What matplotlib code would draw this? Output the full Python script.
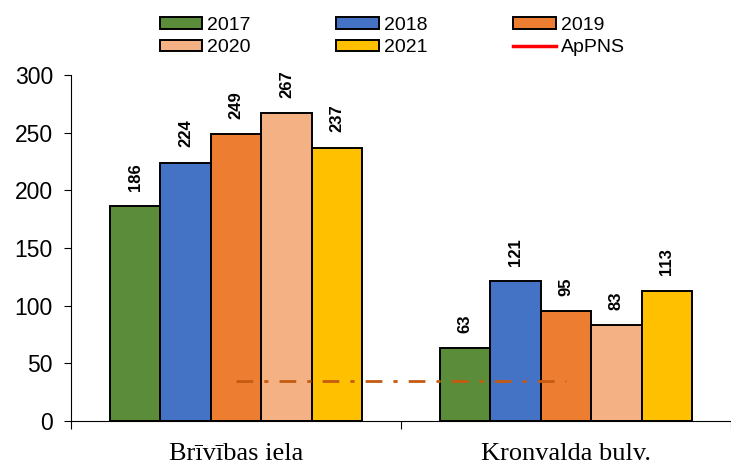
import matplotlib
matplotlib.use("Agg")
import matplotlib.pyplot as plt
import numpy as np
from matplotlib.patches import Patch
from matplotlib.lines import Line2D

categories = ["Brīvības iela", "Kronvalda bulv."]
years = ["2017", "2018", "2019", "2020", "2021"]
values = {
    "2017": [186, 63],
    "2018": [224, 121],
    "2019": [249, 95],
    "2020": [267, 83],
    "2021": [237, 113],
}
colors = ["#5B8C3A", "#4472C4", "#ED7D31", "#F4B183", "#FFC000"]
appns_value = 35

fig = plt.figure(figsize=(7.31, 4.66), dpi=100)
ax = fig.add_axes([71/731, 45/466, 660/731, 346/466])

x = np.arange(len(categories))
w = 0.153
for i, (yr, c) in enumerate(zip(years, colors)):
    pos = x + (i - 2) * w
    bars = ax.bar(pos, values[yr], width=w, color=c, edgecolor="black", linewidth=1.4, zorder=2)
    for b, v in zip(bars, values[yr]):
        ax.annotate(str(v), (b.get_x() + b.get_width()/2, v), xytext=(0, 11), textcoords="offset points",
                    rotation=90, ha="center", va="bottom",
                    fontsize=12, fontweight="bold", family="Liberation Sans", zorder=4)

ax.plot([x[0], x[-1]], [appns_value, appns_value], color="#C55A11", linestyle=(0, (6, 4, 1.5, 4)),
        linewidth=2, zorder=3)

ax.set_xlim(-0.5, -0.5 + 660/334)
ax.set_ylim(0, 300)
ax.set_yticks(np.arange(0, 301, 50))
ax.set_xticks([-0.5, 0.5, 1.5], minor=False)
ax.set_xticklabels([])
ax.set_xticks(x, minor=True)
ax.set_xticklabels(categories, minor=True, family="Liberation Serif", fontsize=19)
ax.tick_params(axis="x", which="minor", length=0, pad=16)
ax.tick_params(axis="x", which="major", length=6, direction="out")
ax.tick_params(axis="y", length=5, direction="out", labelsize=16.5, pad=8)
for lab in ax.get_yticklabels():
    lab.set_family("Liberation Sans")
for s in ["top", "right"]:
    ax.spines[s].set_visible(False)
ax.spines["left"].set_linewidth(0.8)
ax.spines["bottom"].set_linewidth(0.8)

patches = {yr: Patch(facecolor=c, edgecolor="black", linewidth=1.4, label=yr) for yr, c in zip(years, colors)}
line_h = Line2D([0], [0], color="#FF0000", linewidth=2.5, label="ApPNS")
# row-major order for 3 columns
handles = [patches["2017"], patches["2020"], patches["2018"], patches["2021"], patches["2019"], line_h]
leg = fig.legend(handles=handles, ncol=3, loc="upper left", bbox_to_anchor=(143/731, 1.0),
                 frameon=False, prop={"family": "Liberation Sans", "size": 14},
                 handlelength=2.2, handleheight=0.55, handletextpad=0.25, columnspacing=4.4,
                 labelspacing=0.3, borderaxespad=0.45)

fig.savefig("out.png", dpi=100)
